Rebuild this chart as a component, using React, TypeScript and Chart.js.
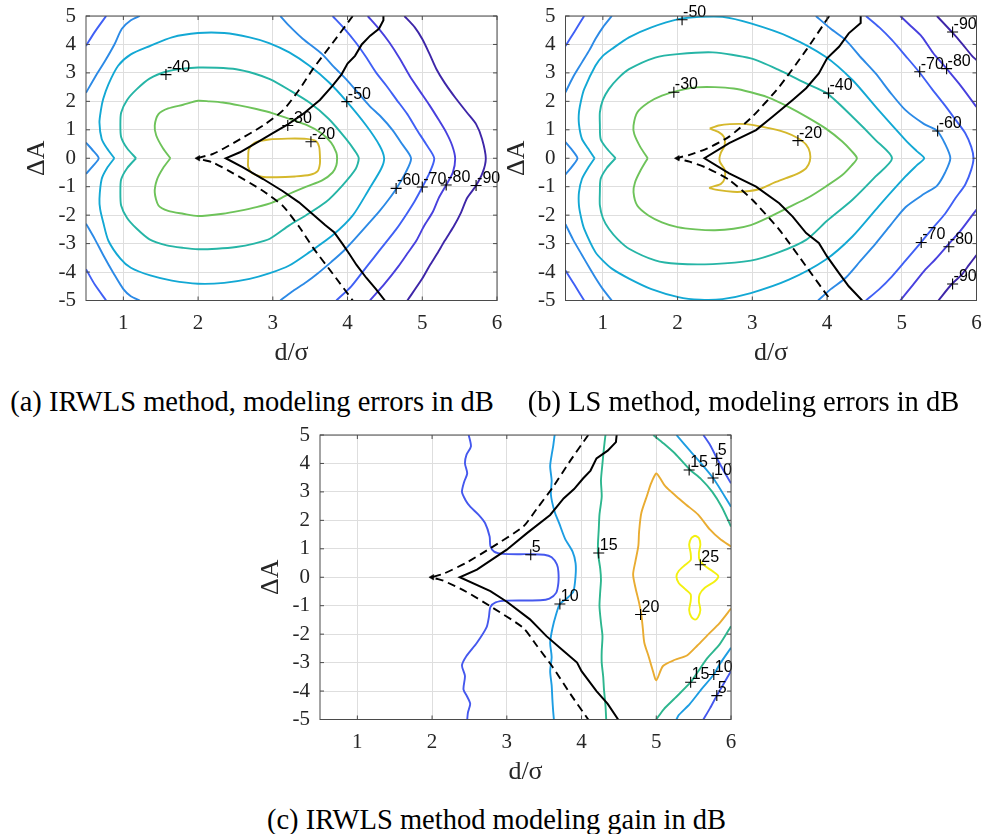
import React, { useEffect, useRef } from 'react';
import { Chart, registerables } from 'chart.js';

Chart.register(...registerables);

type Pt = [number, number];
type Lbl = [number, number, string];

// ---------------- axes ----------------
const xTickValues = [1, 2, 3, 4, 5, 6];
const yTickValues = [-5, -4, -3, -2, -1, 0, 1, 2, 3, 4, 5];
const xRange: Pt = [0.5, 6];
const yRange: Pt = [-5, 5];

// ---------------- panel (a): IRWLS, modeling errors (dB) ----------------
const aM20: Pt[] = [[2.67,0],[2.68,0.32],[2.76,0.55],[2.95,0.66],[3.2,0.69],[3.45,0.68],[3.58,0.6],[3.62,0.4],[3.63,0.1],[3.63,-0.2],[3.6,-0.45],[3.5,-0.58],[3.3,-0.64],[3.05,-0.67],[2.85,-0.65],[2.72,-0.52],[2.67,-0.3],[2.67,0]];
const aM30: Pt[] = [[1.63,0],[1.53,0.35],[1.44,0.8],[1.42,1.15],[1.47,1.55],[1.6,1.75],[1.8,1.88],[2.0,2.02],[2.15,2.0],[2.33,1.96],[2.55,1.86],[2.78,1.73],[3.0,1.58],[3.2,1.4],[3.45,1.17],[3.65,0.88],[3.78,0.55],[3.85,0.2],[3.86,0],[3.85,-0.25],[3.8,-0.5],[3.66,-0.78],[3.45,-1.0],[3.2,-1.28],[3.0,-1.55],[2.78,-1.72],[2.55,-1.85],[2.33,-1.95],[2.0,-2.03],[1.8,-1.95],[1.6,-1.85],[1.47,-1.66],[1.42,-1.2],[1.45,-0.75],[1.53,-0.35],[1.63,0]];
const aM40: Pt[] = [[1.17,0],[1.05,0.35],[0.97,0.75],[0.96,1.2],[0.97,1.6],[1.05,2.05],[1.18,2.43],[1.35,2.8],[1.58,3.05],[1.8,3.15],[2.0,3.19],[2.25,3.18],[2.51,3.13],[2.75,2.98],[2.96,2.78],[3.22,2.4],[3.49,1.96],[3.75,1.38],[3.98,0.68],[4.1,0.25],[4.15,0],[4.11,-0.37],[3.93,-0.96],[3.71,-1.54],[3.44,-2.01],[3.22,-2.36],[2.96,-2.83],[2.75,-3.0],[2.51,-3.12],[2.25,-3.18],[2.0,-3.2],[1.8,-3.15],[1.58,-3.06],[1.35,-2.85],[1.18,-2.48],[1.05,-2.1],[0.97,-1.66],[0.96,-1.2],[0.97,-0.75],[1.05,-0.35],[1.17,0]];
const aM50: Pt[] = [[0.88,0],[0.78,0.35],[0.71,0.68],[0.68,1.26],[0.7,1.7],[0.73,2.08],[0.8,2.6],[0.93,3.25],[1.1,3.65],[1.36,3.95],[1.65,4.25],[2.0,4.4],[2.35,4.4],[2.69,4.25],[2.95,4.05],[3.22,3.72],[3.49,3.25],[3.75,2.67],[3.99,1.99],[4.25,1.15],[4.43,0.44],[4.49,0],[4.45,-0.37],[4.29,-1.08],[4.07,-2.01],[3.8,-2.71],[3.49,-3.3],[3.22,-3.77],[2.95,-4.05],[2.69,-4.24],[2.35,-4.38],[2.0,-4.41],[1.65,-4.3],[1.36,-4.12],[1.1,-3.85],[0.96,-3.53],[0.8,-2.9],[0.73,-2.25],[0.69,-1.8],[0.68,-1.43],[0.71,-0.73],[0.78,-0.35],[0.88,0]];
const aM60TopLeft: Pt[] = [[0.5,2.3],[0.62,2.85],[0.75,3.4],[0.88,4.0],[0.98,4.55],[1.1,4.85],[1.22,5]];
const aM60Saddle: Pt[] = [[0.5,0.55],[0.6,0.25],[0.67,0],[0.6,-0.25],[0.5,-0.55]];
const aM60BottomLeft: Pt[] = [[0.5,-2.3],[0.62,-2.85],[0.73,-3.4],[0.87,-4.05],[1.0,-4.6],[1.1,-4.85],[1.22,-5]];
const aM60Right: Pt[] = [[3.1,5],[3.22,4.65],[3.4,4.2],[3.66,3.66],[3.82,3.2],[3.98,2.78],[4.14,2.3],[4.29,1.85],[4.45,1.45],[4.6,1.0],[4.73,0.5],[4.85,0],[4.78,-0.49],[4.65,-1.08],[4.55,-1.45],[4.43,-1.85],[4.28,-2.3],[4.11,-2.8],[3.95,-3.25],[3.78,-3.65],[3.6,-4.05],[3.45,-4.35],[3.25,-4.7],[3.1,-5]];
const aM70TopLeft: Pt[] = [[0.5,3.95],[0.62,4.45],[0.77,5]];
const aM70BottomLeft: Pt[] = [[0.5,-3.9],[0.62,-4.45],[0.77,-5]];
const aM70Right: Pt[] = [[3.8,5],[3.96,4.55],[4.11,4.07],[4.25,3.55],[4.38,3.02],[4.52,2.55],[4.65,2.08],[4.8,1.55],[4.92,1.03],[5.05,0.5],[5.16,0],[5.1,-0.5],[5.0,-1.02],[4.9,-1.5],[4.78,-2.0],[4.65,-2.5],[4.5,-3.0],[4.35,-3.5],[4.2,-4.0],[4.05,-4.5],[3.85,-5]];
const aM80: Pt[] = [[4.27,5],[4.42,4.55],[4.56,4.07],[4.7,3.5],[4.83,2.9],[4.97,2.35],[5.1,1.85],[5.22,1.35],[5.32,0.91],[5.4,0.45],[5.44,0],[5.41,-0.49],[5.32,-0.94],[5.22,-1.4],[5.14,-1.89],[5.02,-2.4],[4.92,-2.9],[4.8,-3.35],[4.68,-3.8],[4.5,-4.4],[4.3,-5]];
const aM90: Pt[] = [[4.76,5],[4.9,4.6],[5.0,4.19],[5.1,3.65],[5.19,3.13],[5.3,2.65],[5.45,2.1],[5.6,1.6],[5.72,1.2],[5.8,0.68],[5.85,0],[5.81,-0.49],[5.72,-0.96],[5.6,-1.4],[5.52,-1.9],[5.42,-2.4],[5.3,-2.9],[5.2,-3.35],[5.1,-3.77],[5.0,-4.23],[4.8,-5]];
const aSolid: Pt[] = [[4.48,5],[4.48,4.85],[4.42,4.55],[4.3,4.3],[4.19,4.0],[4.1,3.6],[4.0,3.33],[3.92,2.95],[3.8,2.55],[3.63,2.05],[3.4,1.55],[3.19,1.17],[3.0,0.88],[2.82,0.6],[2.56,0.21],[2.37,0],[2.6,-0.32],[2.87,-0.73],[3.13,-1.15],[3.35,-1.55],[3.55,-2.0],[3.7,-2.35],[3.82,-2.6],[3.93,-3.0],[4.02,-3.35],[4.12,-3.75],[4.25,-4.2],[4.38,-4.6],[4.5,-5]];
const aDashed: Pt[] = [[4.07,5],[3.8,4.05],[3.54,3.15],[3.35,2.4],[3.14,1.69],[2.87,1.15],[2.47,0.53],[2.2,0.15],[2.0,0],[2.2,-0.15],[2.47,-0.53],[2.87,-1.15],[3.14,-1.69],[3.35,-2.4],[3.54,-3.15],[3.8,-4.05],[4.07,-5]];
const aLabels: Lbl[] = [[1.57,2.94,'-40'],[3.2,1.15,'-30'],[3.51,0.58,'-20'],[3.99,1.99,'-50'],[4.65,-1.06,'-60'],[5.0,-1.01,'-70'],[5.32,-0.94,'-80'],[5.72,-0.96,'-90']];

// ---------------- panel (b): LS, modeling errors (dB) ----------------
const bM20: Pt[] = [[2.43,1.04],[2.55,1.15],[2.7,1.2],[2.92,1.2],[3.1,1.12],[3.27,1.03],[3.45,0.9],[3.6,0.72],[3.72,0.48],[3.77,0.2],[3.77,-0.1],[3.72,-0.35],[3.6,-0.55],[3.45,-0.7],[3.3,-0.85],[3.1,-1.08],[2.9,-1.17],[2.74,-1.18],[2.55,-1.12],[2.43,-1.04],[2.58,-0.9],[2.63,-0.7],[2.63,-0.4],[2.57,-0.15],[2.56,0],[2.58,0.2],[2.63,0.45],[2.62,0.75],[2.55,0.92],[2.43,1.04]];
const bM30: Pt[] = [[1.6,0],[1.5,0.4],[1.42,0.85],[1.41,1.15],[1.46,1.61],[1.61,1.96],[1.79,2.2],[2.0,2.37],[2.24,2.49],[2.5,2.5],[2.75,2.45],[2.98,2.32],[3.2,2.15],[3.49,1.8],[3.75,1.42],[3.98,1.05],[4.2,0.6],[4.33,0.25],[4.4,0],[4.33,-0.25],[4.2,-0.6],[3.98,-1.0],[3.75,-1.38],[3.49,-1.72],[3.2,-2.1],[2.98,-2.35],[2.75,-2.48],[2.5,-2.53],[2.24,-2.5],[2.0,-2.42],[1.79,-2.25],[1.61,-2.01],[1.46,-1.66],[1.41,-1.19],[1.43,-0.85],[1.5,-0.45],[1.6,0]];
const bM40: Pt[] = [[1.17,0],[1.05,0.35],[0.97,0.68],[0.96,1.2],[0.96,1.61],[1.0,2.05],[1.08,2.43],[1.2,2.8],[1.35,3.13],[1.7,3.54],[2.0,3.66],[2.47,3.72],[2.98,3.51],[3.36,3.1],[3.72,2.63],[4.0,2.28],[4.34,1.46],[4.65,0.64],[4.87,0],[4.65,-0.64],[4.34,-1.46],[4.0,-2.2],[3.72,-2.87],[3.36,-3.3],[2.98,-3.6],[2.47,-3.72],[2.0,-3.71],[1.7,-3.59],[1.35,-3.18],[1.2,-2.85],[1.08,-2.48],[1.0,-2.1],[0.96,-1.66],[0.96,-1.2],[0.97,-0.73],[1.05,-0.35],[1.17,0]];
const bM50: Pt[] = [[0.89,0],[0.8,0.35],[0.72,0.68],[0.68,1.2],[0.68,1.61],[0.71,2.05],[0.75,2.43],[0.9,3.25],[1.0,3.6],[1.12,3.84],[1.35,4.25],[1.65,4.6],[2.01,4.89],[2.3,4.97],[2.6,4.97],[2.98,4.74],[3.49,4.27],[3.98,3.57],[4.34,2.75],[4.69,1.69],[5.05,0.64],[5.2,0.25],[5.3,0],[5.2,-0.25],[5.05,-0.64],[4.69,-1.69],[4.34,-2.75],[3.98,-3.57],[3.49,-4.27],[2.98,-4.74],[2.6,-4.95],[2.3,-4.97],[2.01,-4.88],[1.65,-4.6],[1.35,-4.23],[1.12,-3.88],[1.0,-3.6],[0.9,-3.3],[0.75,-2.48],[0.71,-2.1],[0.68,-1.66],[0.68,-1.2],[0.72,-0.73],[0.8,-0.35],[0.89,0]];
const bM60TopLeft: Pt[] = [[0.5,2.32],[0.6,2.85],[0.72,3.37],[0.82,3.8],[0.9,4.19],[1.0,4.6],[1.12,5]];
const bM60Saddle: Pt[] = [[0.5,0.57],[0.6,0.25],[0.66,0],[0.6,-0.25],[0.5,-0.57]];
const bM60BottomLeft: Pt[] = [[0.5,-2.32],[0.6,-2.85],[0.72,-3.4],[0.82,-3.85],[0.9,-4.2],[1.0,-4.6],[1.12,-5]];
const bM60Right: Pt[] = [[3.85,5],[4.05,4.55],[4.25,4.15],[4.45,3.55],[4.65,2.98],[4.85,2.3],[5.05,1.69],[5.3,1.2],[5.47,0.97],[5.58,0.5],[5.65,0],[5.58,-0.5],[5.47,-0.97],[5.3,-1.25],[5.05,-1.72],[4.85,-2.35],[4.65,-3.0],[4.45,-3.6],[4.25,-4.2],[4.05,-4.6],[3.88,-5]];
const bM70TopLeft: Pt[] = [[0.5,3.95],[0.62,4.45],[0.75,5]];
const bM70BottomLeft: Pt[] = [[0.5,-3.95],[0.62,-4.45],[0.75,-5]];
const bM70Right: Pt[] = [[4.52,5],[4.7,4.6],[4.87,4.15],[5.05,3.6],[5.23,3.04],[5.4,2.45],[5.58,1.85],[5.72,1.35],[5.85,0.88],[5.93,0.4],[5.96,0],[5.93,-0.4],[5.85,-0.92],[5.72,-1.4],[5.58,-1.95],[5.4,-2.5],[5.25,-2.98],[5.05,-3.6],[4.87,-4.15],[4.7,-4.6],[4.52,-5]];
const bM80Top: Pt[] = [[4.98,5],[5.12,4.65],[5.27,4.27],[5.42,3.7],[5.58,3.21],[5.8,2.51],[6.0,1.8]];
const bM80Bottom: Pt[] = [[6.0,-1.8],[5.8,-2.5],[5.6,-3.1],[5.45,-3.55],[5.32,-3.9],[5.15,-4.45],[4.98,-5]];
const bM90Top: Pt[] = [[5.47,5],[5.67,4.44],[5.8,4.05],[5.94,3.6],[6.0,3.45]];
const bM90Bottom: Pt[] = [[6.0,-3.4],[5.9,-3.75],[5.8,-4.1],[5.67,-4.42],[5.49,-5]];
const bSolid: Pt[] = [[4.45,5],[4.45,4.75],[4.29,4.39],[4.16,3.92],[4.0,3.51],[3.89,2.98],[3.72,2.46],[3.54,2.05],[3.27,1.46],[3.05,0.99],[2.69,0.53],[2.36,0],[2.69,-0.53],[3.05,-1.0],[3.36,-1.58],[3.54,-2.05],[3.72,-2.63],[3.89,-2.98],[4.0,-3.45],[4.16,-4.04],[4.29,-4.5],[4.47,-5]];
const bDashed: Pt[] = [[4.03,5],[3.72,3.8],[3.36,2.51],[3.0,1.46],[2.69,0.76],[2.4,0.35],[2.16,0.12],[2.0,0],[2.16,-0.12],[2.4,-0.35],[2.69,-0.76],[3.0,-1.46],[3.36,-2.51],[3.72,-3.8],[4.05,-5]];
const bLabels: Lbl[] = [[2.06,4.87,'-50'],[1.95,2.32,'-30'],[3.61,0.62,'-20'],[4.02,2.29,'-40'],[5.24,3.04,'-70'],[5.6,3.15,'-80'],[5.68,4.44,'-90'],[5.48,0.96,'-60'],[5.26,-2.96,'-70'],[5.63,-3.11,'-80'],[5.68,-4.42,'-90']];

// ---------------- panel (c): IRWLS modeling gain (dB) ----------------
const c5Left: Pt[] = [[2.49,5],[2.52,4.6],[2.46,4.3],[2.44,4.0],[2.47,3.65],[2.43,3.36],[2.4,3.0],[2.45,2.7],[2.51,2.48],[2.62,2.2],[2.71,1.9],[2.77,1.43],[2.78,1.1],[2.83,0.9],[2.95,0.82],[3.31,0.81],[3.5,0.79],[3.6,0.7],[3.67,0.45],[3.69,0.2],[3.69,-0.2],[3.66,-0.55],[3.57,-0.75],[3.45,-0.81],[3.0,-0.82],[2.85,-0.88],[2.78,-1.05],[2.76,-1.4],[2.73,-1.75],[2.6,-2.3],[2.46,-2.77],[2.4,-3.1],[2.44,-3.47],[2.42,-3.94],[2.47,-4.2],[2.51,-4.45],[2.48,-4.75],[2.47,-5]];
const c5TopRight: Pt[] = [[5.63,5],[5.72,4.65],[5.81,4.19],[5.9,3.75],[6.0,3.3]];
const c5BottomRight: Pt[] = [[6.0,-3.3],[5.9,-3.75],[5.81,-4.16],[5.72,-4.6],[5.63,-5]];
const c10Mid: Pt[] = [[3.64,5],[3.62,4.6],[3.6,4.3],[3.58,3.9],[3.6,3.4],[3.59,2.9],[3.64,2.3],[3.7,1.9],[3.78,1.35],[3.88,0.9],[3.92,0.5],[3.92,0.05],[3.89,-0.5],[3.8,-0.75],[3.71,-0.94],[3.66,-1.3],[3.61,-1.8],[3.58,-2.3],[3.6,-2.8],[3.58,-3.3],[3.6,-3.8],[3.61,-4.3],[3.62,-4.7],[3.63,-5]];
const c10TopRight: Pt[] = [[5.27,5],[5.45,4.45],[5.6,4.0],[5.76,3.49],[5.88,3.0],[6.0,2.48]];
const c10BottomRight: Pt[] = [[6.0,-2.48],[5.85,-3.05],[5.77,-3.42],[5.6,-3.95],[5.45,-4.45],[5.3,-4.85],[5.27,-5]];
const c15Mid: Pt[] = [[4.32,5],[4.3,4.55],[4.28,4.0],[4.26,3.4],[4.27,2.84],[4.24,2.2],[4.23,1.67],[4.22,1.2],[4.22,0.85],[4.25,0.3],[4.26,-0.1],[4.25,-0.5],[4.24,-1.02],[4.26,-1.6],[4.28,-2.07],[4.27,-2.6],[4.27,-3.0],[4.29,-3.5],[4.3,-3.94],[4.32,-4.5],[4.33,-5]];
const c15TopRight: Pt[] = [[4.96,5],[5.1,4.7],[5.25,4.35],[5.45,3.78],[5.6,3.45],[5.75,3.0],[5.88,2.45],[6.0,1.78]];
const c15BottomRight: Pt[] = [[6.0,-1.72],[5.85,-2.35],[5.68,-2.85],[5.55,-3.35],[5.46,-3.69],[5.25,-4.25],[5.1,-4.64],[5.0,-5]];
const c20: Pt[] = [[6.0,1.08],[5.85,1.35],[5.72,1.67],[5.56,2.2],[5.4,2.55],[5.27,2.84],[5.12,3.2],[5.05,3.49],[5.0,3.65],[4.93,3.3],[4.88,2.9],[4.8,2.26],[4.77,1.6],[4.76,1.1],[4.72,0.55],[4.69,0.1],[4.72,-0.35],[4.77,-0.9],[4.8,-1.31],[4.82,-1.8],[4.84,-2.3],[4.9,-2.8],[4.95,-3.25],[5.0,-3.62],[5.09,-3.12],[5.25,-2.9],[5.41,-2.75],[5.55,-2.4],[5.68,-2.05],[5.85,-1.6],[6.0,-1.1]];
const c25: Pt[] = [[5.52,1.47],[5.57,1.38],[5.59,1.15],[5.57,0.85],[5.58,0.6],[5.65,0.4],[5.75,0.22],[5.83,0.04],[5.78,-0.15],[5.65,-0.37],[5.58,-0.6],[5.57,-0.85],[5.59,-1.15],[5.56,-1.4],[5.52,-1.49],[5.47,-1.4],[5.44,-1.15],[5.46,-0.85],[5.46,-0.6],[5.38,-0.4],[5.3,-0.2],[5.27,0.03],[5.3,0.22],[5.38,0.42],[5.46,0.6],[5.46,0.85],[5.44,1.15],[5.47,1.38],[5.52,1.47]];
const cSolid: Pt[] = [[4.47,5],[4.46,4.75],[4.35,4.45],[4.2,4.18],[4.12,3.75],[4.02,3.47],[3.9,3.1],[3.76,2.77],[3.58,2.19],[3.27,1.55],[3.0,0.97],[2.6,0.27],[2.37,0],[2.78,-0.49],[3.0,-0.86],[3.31,-1.48],[3.53,-2.07],[3.76,-2.59],[3.94,-3.0],[4.0,-3.3],[4.2,-4.0],[4.35,-4.45],[4.49,-5]];
const cDashed: Pt[] = [[4.09,5],[3.85,4.1],[3.62,3.18],[3.4,2.4],[3.22,1.78],[2.78,1.02],[2.45,0.5],[2.15,0.12],[2.0,0],[2.15,-0.12],[2.45,-0.5],[2.78,-1.02],[3.22,-1.78],[3.4,-2.4],[3.62,-3.18],[3.85,-4.1],[4.09,-5]];
const cLabels: Lbl[] = [[3.32,0.79,'5'],[3.71,-0.94,'10'],[4.23,0.85,'15'],[4.79,-1.31,'20'],[5.59,0.44,'25'],[5.44,3.77,'15'],[5.81,4.18,'5'],[5.76,3.49,'10'],[5.46,-3.69,'15'],[5.77,-3.42,'10'],[5.81,-4.16,'5']];

const arrowTip: Pt = [2.0, 0];

// ---------------- styles ----------------
const errorColors: Record<string, string> = {
  '-90': '#3e26a8', '-80': '#4840de', '-70': '#4060f5', '-60': '#2c8ae6',
  '-50': '#13a8d4', '-40': '#26b5a6', '-30': '#6ec35a', '-20': '#d5b82c',
};
const gainColors: Record<string, string> = {
  '5': '#4558ee', '10': '#1d9de2', '15': '#2db68e', '20': '#e9ac31', '25': '#f3f011',
};

const SERIF = '"Liberation Serif", "Times New Roman", serif';
const SANS = '"Liberation Sans", Arial, sans-serif';
const INK = '#262626';

type Spec = {
  contours: [number, Pt[]][];
  colors: Record<string, string>;
  solid: Pt[];
  dashed: Pt[];
  labels: Lbl[];
};

const specA: Spec = {
  contours: [[-20, aM20], [-30, aM30], [-40, aM40], [-50, aM50], [-60, aM60TopLeft], [-60, aM60Saddle], [-60, aM60BottomLeft], [-60, aM60Right], [-70, aM70TopLeft], [-70, aM70BottomLeft], [-70, aM70Right], [-80, aM80], [-90, aM90]],
  colors: errorColors, solid: aSolid, dashed: aDashed, labels: aLabels,
};
const specB: Spec = {
  contours: [[-20, bM20], [-30, bM30], [-40, bM40], [-50, bM50], [-60, bM60TopLeft], [-60, bM60Saddle], [-60, bM60BottomLeft], [-60, bM60Right], [-70, bM70TopLeft], [-70, bM70BottomLeft], [-70, bM70Right], [-80, bM80Top], [-80, bM80Bottom], [-90, bM90Top], [-90, bM90Bottom]],
  colors: errorColors, solid: bSolid, dashed: bDashed, labels: bLabels,
};
const specC: Spec = {
  contours: [[5, c5Left], [5, c5TopRight], [5, c5BottomRight], [10, c10Mid], [10, c10TopRight], [10, c10BottomRight], [15, c15Mid], [15, c15TopRight], [15, c15BottomRight], [20, c20], [25, c25]],
  colors: gainColors, solid: cSolid, dashed: cDashed, labels: cLabels,
};

type Box = { left: number; top: number; w: number; h: number; yAxisW: number; padRight: number };

const toXY = (pts: Pt[]) => pts.map(([x, y]) => ({ x, y }));

function buildConfig(spec: Spec, box: Box): any {
  const datasets: any[] = [];
  datasets.push({
    data: toXY(spec.labels.map((l) => [l[0], l[1]] as Pt)),
    showLine: false, pointStyle: 'cross', pointRadius: 5.5, pointHoverRadius: 5.5,
    pointBorderWidth: 1.1, pointBorderColor: '#000', borderColor: '#000', backgroundColor: '#000',
  });
  datasets.push({
    data: toXY([arrowTip]), showLine: false, pointStyle: 'triangle', pointRotation: -90,
    pointRadius: 3.2, pointHoverRadius: 3.2, pointBackgroundColor: '#000', pointBorderColor: '#000', pointBorderWidth: 0.5,
  });
  datasets.push({ data: toXY(spec.solid), showLine: true, borderColor: '#000', borderWidth: 2, pointRadius: 0, tension: 0 });
  datasets.push({ data: toXY(spec.dashed), showLine: true, borderColor: '#000', borderWidth: 1.9, borderDash: [8, 5], pointRadius: 0, tension: 0.2 });
  spec.contours.forEach(([lvl, pts]) => {
    datasets.push({ data: toXY(pts), showLine: true, borderColor: spec.colors[String(lvl)], borderWidth: 1.9, pointRadius: 0, tension: 0.25 });
  });

  const overlay = {
    id: 'overlay',
    afterDatasetsDraw(chart: any) {
      const { ctx, chartArea: a, scales } = chart;
      const sx = scales.x, sy = scales.y;
      ctx.save();
      ctx.font = `16px ${SANS}`;
      ctx.fillStyle = '#000';
      ctx.textAlign = 'left';
      ctx.textBaseline = 'alphabetic';
      spec.labels.forEach(([x, y, t]) => {
        ctx.fillText(t, sx.getPixelForValue(x) + 1, sy.getPixelForValue(y) - 3);
      });
      ctx.strokeStyle = '#4a4a4a';
      ctx.lineWidth = 1;
      ctx.strokeRect(a.left, a.top, a.right - a.left, a.bottom - a.top);
      ctx.beginPath();
      xTickValues.forEach((v) => {
        const p = sx.getPixelForValue(v);
        ctx.moveTo(p, a.bottom); ctx.lineTo(p, a.bottom - 4);
        ctx.moveTo(p, a.top); ctx.lineTo(p, a.top + 4);
      });
      yTickValues.forEach((v) => {
        const p = sy.getPixelForValue(v);
        ctx.moveTo(a.left, p); ctx.lineTo(a.left + 4, p);
        ctx.moveTo(a.right, p); ctx.lineTo(a.right - 4, p);
      });
      ctx.stroke();
      ctx.restore();
    },
  };

  return {
    type: 'scatter',
    data: { datasets },
    options: {
      animation: false,
      responsive: false,
      devicePixelRatio: 1,
      events: [],
      layout: { autoPadding: false, padding: { left: 0, top: 16, right: box.padRight, bottom: 0 } },
      plugins: { legend: { display: false }, tooltip: { enabled: false }, title: { display: false } },
      scales: {
        x: {
          type: 'linear', min: xRange[0], max: xRange[1],
          afterBuildTicks: (s: any) => { s.ticks = xTickValues.map((v) => ({ value: v })); },
          afterFit: (s: any) => { s.height = 74.5; s.paddingLeft = 0; s.paddingRight = 0; },
          grid: { color: '#dedede', lineWidth: 1, drawTicks: false },
          border: { display: false },
          ticks: { padding: 10, color: INK, font: { family: SERIF, size: 21 }, maxRotation: 0, autoSkip: false },
          title: { display: true, text: 'd/σ', color: INK, font: { family: SERIF, size: 26 }, padding: { top: 0, bottom: 6 } },
        },
        y: {
          type: 'linear', min: yRange[0], max: yRange[1],
          afterBuildTicks: (s: any) => { s.ticks = yTickValues.map((v) => ({ value: v })); },
          afterFit: (s: any) => { s.width = box.yAxisW; s.paddingTop = 0; s.paddingBottom = 0; },
          grid: { color: '#dedede', lineWidth: 1, drawTicks: false },
          border: { display: false },
          ticks: { padding: 10, color: INK, font: { family: SERIF, size: 21 }, autoSkip: false },
          title: { display: true, text: 'ΔA', color: INK, font: { family: SERIF, size: 26 }, padding: { top: 22, bottom: 0 } },
        },
      },
    },
    plugins: [overlay],
  };
}

function Panel({ spec, box }: { spec: Spec; box: Box }) {
  const ref = useRef<HTMLCanvasElement>(null);
  useEffect(() => {
    const chart = new Chart(ref.current as HTMLCanvasElement, buildConfig(spec, box));
    return () => chart.destroy();
  }, []);
  return (
    <canvas
      ref={ref}
      width={box.w}
      height={box.h}
      style={{ position: 'absolute', left: box.left, top: box.top, width: box.w, height: box.h, display: 'block' }}
    />
  );
}

const captionStyle: React.CSSProperties = {
  position: 'absolute', textAlign: 'center', fontFamily: SERIF, fontSize: 28.5,
  lineHeight: '34px', height: 34, whiteSpace: 'nowrap', color: '#000',
};

export default function App() {
  return (
    <div style={{ position: 'absolute', left: 0, top: 0, width: 984, height: 834, overflow: 'hidden', background: '#fff' }}>
      <Panel spec={specA} box={{ left: 0, top: 0, w: 505, h: 375, yAxisW: 86, padRight: 8 }} />
      <Panel spec={specB} box={{ left: 480, top: 0, w: 504, h: 375, yAxisW: 85.5, padRight: 7.5 }} />
      <Panel spec={specC} box={{ left: 234, top: 419, w: 505, h: 375, yAxisW: 86, padRight: 8 }} />
      <div style={{ ...captionStyle, left: 0, top: 385, width: 504 }}>(a) IRWLS method, modeling errors in dB</div>
      <div style={{ ...captionStyle, left: 503, top: 385, width: 481 }}>(b) LS method, modeling errors in dB</div>
      <div style={{ ...captionStyle, left: 250, top: 803, width: 493 }}>(c) IRWLS method modeling gain in dB</div>
    </div>
  );
}
